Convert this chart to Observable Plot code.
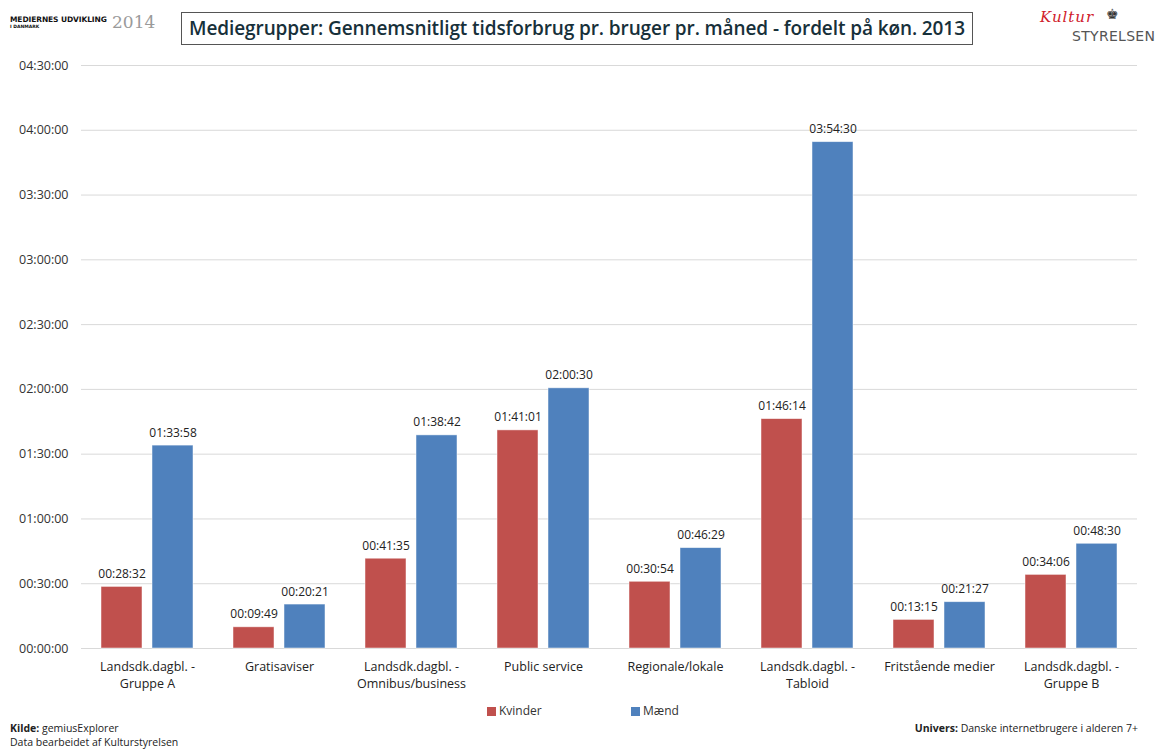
<!DOCTYPE html>
<html>
<head>
<meta charset="utf-8">
<script src="https://cdn.jsdelivr.net/npm/d3@7"></script>
<script src="https://cdn.jsdelivr.net/npm/@observablehq/plot@0.6"></script>
<style>
  html, body { margin: 0; padding: 0; background: #fff; }
  #page { position: relative; width: 1155px; height: 749px; overflow: hidden; font-family: "Open Sans", sans-serif; color: #222; }
  #chart { position: absolute; left: 0; top: 50px; }
  .abs { position: absolute; white-space: nowrap; }
  #title { left: 181px; top: 12px; width: 792px; height: 33px; border: 1px solid #555; box-sizing: border-box;
           font-weight: 600; font-size: 19px; color: #17303a; text-align: center; line-height: 31px; letter-spacing: -0.1px; }
  #logoL1 { left: 10px; top: 15px; font-family: "DejaVu Sans", sans-serif; font-weight: 900; font-size: 7.5px; color: #111; letter-spacing: -0.1px; }
  #logoL2 { left: 10px; top: 24px; font-family: "DejaVu Sans", sans-serif; font-weight: 700; font-size: 4.5px; color: #111; }
  #logoY { left: 112px; top: 12px; font-family: "DejaVu Serif", serif; font-size: 17px; color: #9a9a9a; }
  #kult { left: 1040px; top: 8px; font-family: "DejaVu Serif", serif; font-style: italic; font-size: 15px; color: #d0202a; letter-spacing: 1px; }
  #crown { left: 1106px; top: 4px; font-size: 14px; color: #333; }
  #styr { left: 1072px; top: 28px; font-family: "DejaVu Sans", sans-serif; font-size: 14px; color: #555; letter-spacing: 0.3px; }
  .leg { font-size: 12px; color: #333; top: 702px; }
  .sw { position: absolute; width: 9px; height: 9px; top: 707px; }
  .foot { font-size: 10.5px; color: #222; }
</style>
</head>
<body>
<div id="page">
  <div class="abs" id="logoL1">MEDIERNES UDVIKLING</div>
  <div class="abs" id="logoL2">I DANMARK</div>
  <div class="abs" id="logoY">2014</div>
  <div class="abs" id="title">Mediegrupper: Gennemsnitligt tidsforbrug pr. bruger pr. måned - fordelt på køn. 2013</div>
  <div class="abs" id="kult">Kultur</div>
  <div class="abs" id="crown">♚</div>
  <div class="abs" id="styr">STYRELSEN</div>
  <div id="chart"></div>
  <div class="sw" style="left:487px;background:#C0504D"></div>
  <div class="abs leg" style="left:499px">Kvinder</div>
  <div class="sw" style="left:631px;background:#4F81BD"></div>
  <div class="abs leg" style="left:643px">Mænd</div>
  <div class="abs foot" style="left:10px;top:721px"><b>Kilde:</b> gemiusExplorer</div>
  <div class="abs foot" style="left:10px;top:735px">Data bearbeidet af Kulturstyrelsen</div>
  <div class="abs foot" style="right:17px;top:721px"><b>Univers:</b> Danske internetbrugere i alderen 7+</div>
</div>
<script>
const categories = [
  "Landsdk.dagbl. -\nGruppe A",
  "Gratisaviser",
  "Landsdk.dagbl. -\nOmnibus/business",
  "Public service",
  "Regionale/lokale",
  "Landsdk.dagbl. -\nTabloid",
  "Fritstående medier",
  "Landsdk.dagbl. -\nGruppe B"
];
const series = ["Kvinder", "Mænd"];
const kvinder = ["00:28:32", "00:09:49", "00:41:35", "01:41:01", "00:30:54", "01:46:14", "00:13:15", "00:34:06"];
const maend   = ["01:33:58", "00:20:21", "01:38:42", "02:00:30", "00:46:29", "03:54:30", "00:21:27", "00:48:30"];
const yTickLabels = ["00:00:00", "00:30:00", "01:00:00", "01:30:00", "02:00:00", "02:30:00", "03:00:00", "03:30:00", "04:00:00", "04:30:00"];
const colors = ["#C0504D", "#4F81BD"];

const toSec = s => { const [h, m, x] = s.split(":").map(Number); return h * 3600 + m * 60 + x; };
const pad = n => String(n).padStart(2, "0");
const fmt = v => pad(Math.floor(v / 3600)) + ":" + pad(Math.floor((v % 3600) / 60)) + ":" + pad(Math.round(v % 60));

const yTicks = yTickLabels.map(toSec);
const data = [];
categories.forEach((c, i) => {
  data.push({cat: c, sex: series[0], label: kvinder[i], value: toSec(kvinder[i])});
  data.push({cat: c, sex: series[1], label: maend[i], value: toSec(maend[i])});
});

const chart = Plot.plot({
  width: 1155,
  height: 650,
  marginTop: 15,
  marginBottom: 52,
  marginLeft: 81,
  marginRight: 18,
  style: {fontFamily: "'Open Sans', sans-serif", fontSize: "12px", color: "#333", background: "transparent"},
  fx: {domain: categories, padding: 0, label: null},
  x: {domain: series, paddingInner: 0.196, paddingOuter: 0.392, axis: null},
  y: {domain: [0, yTicks[yTicks.length - 1]], label: null},
  color: {domain: series, range: colors},
  marks: [
    Plot.gridY(yTicks, {stroke: "#d9d9d9", strokeOpacity: 1, strokeWidth: 1}),
    Plot.axisY(yTicks, {tickFormat: fmt, tickSize: 0, tickPadding: 13, label: null, fontSize: 12.5, fill: "#333"}),
    Plot.axisFx({anchor: "bottom", tickSize: 0, tickPadding: 10, label: null, lineHeight: 1.4, fontSize: 12.5, fill: "#222"}),
    Plot.barY(data, {fx: "cat", x: "sex", y: "value", fill: "sex", stroke: "#fff", strokeOpacity: 0.6, strokeWidth: 0.8}),
    Plot.text(data, {fx: "cat", x: "sex", y: "value", text: "label", dy: -9, lineAnchor: "bottom", fill: "#222", fontSize: 12})
  ]
});
document.getElementById("chart").appendChild(chart);
</script>
</body>
</html>
